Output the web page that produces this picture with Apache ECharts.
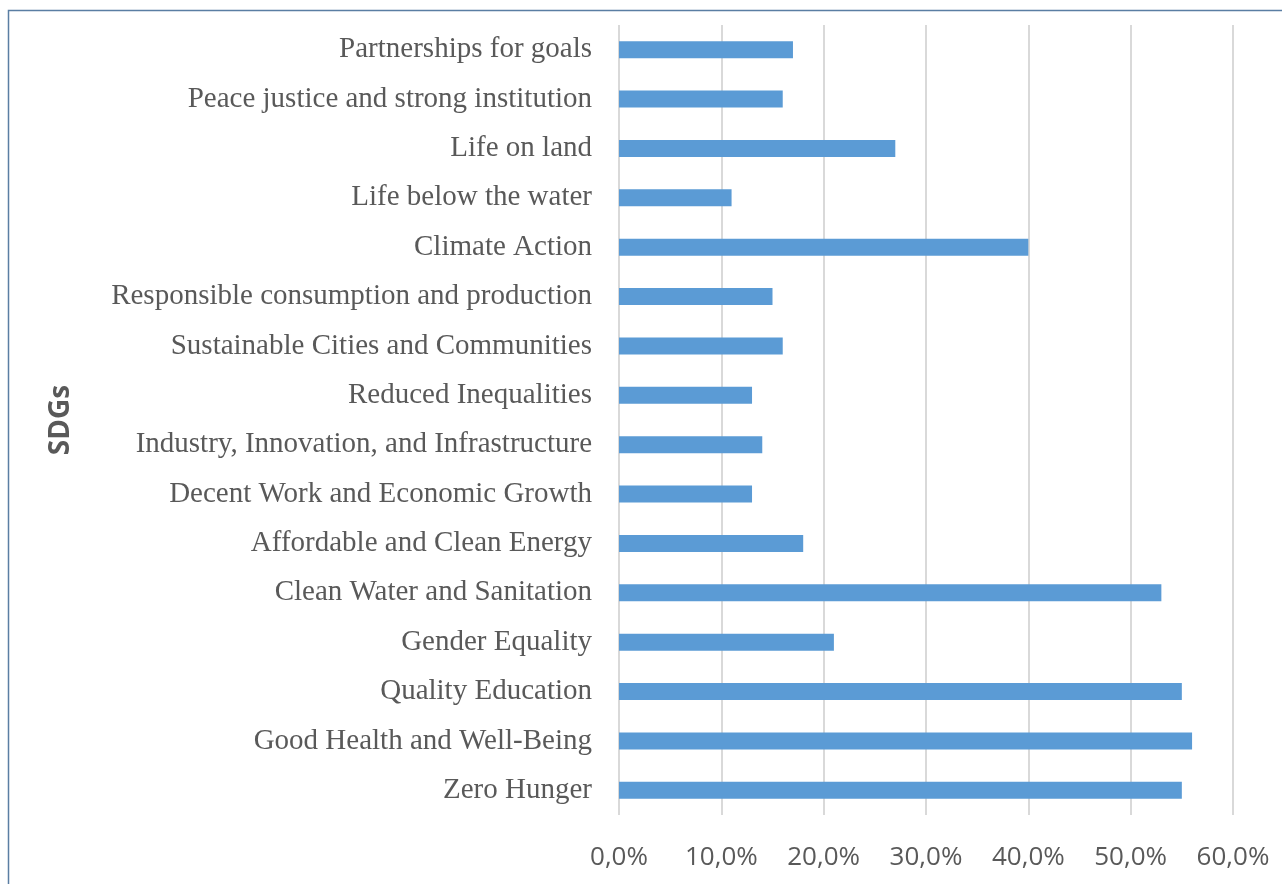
<!DOCTYPE html>
<html>
<head>
<meta charset="utf-8">
<script src="https://cdn.jsdelivr.net/npm/echarts@6/dist/echarts.min.js"></script>
<style>
html, body { margin: 0; padding: 0; background: #fff; }
#main { width: 1282px; height: 884px; }
</style>
</head>
<body>
<div id="main"></div>
<script>
// categories, bottom to top
var categories = ['Zero Hunger', 'Good Health and Well-Being', 'Quality Education', 'Gender Equality',
    'Clean Water and Sanitation', 'Affordable and Clean Energy', 'Decent Work and Economic Growth',
    'Industry, Innovation, and Infrastructure', 'Reduced Inequalities', 'Sustainable Cities and Communities',
    'Responsible consumption and production', 'Climate Action', 'Life below the water', 'Life on land',
    'Peace justice and strong institution', 'Partnerships for goals'];
// percent values
var values = [55, 56, 55, 21, 53, 18, 13, 14, 13, 16, 15, 40, 11, 27, 16, 17];

var chart = echarts.init(document.getElementById('main'));
var option = {
    backgroundColor: '#fff',
    animation: false,
    graphic: [{
        type: 'rect',
        shape: { x: 8.5, y: 10.5, width: 1300, height: 900 },
        style: { fill: 'none', stroke: '#5a7ea3', lineWidth: 1.5 }
    }, {
        type: 'text',
        x: 61, y: 420, rotation: Math.PI / 2,
        style: {
            text: 'SDGs', fill: '#595959', font: 'bold 28px "Open Sans"',
            align: 'center', verticalAlign: 'middle'
        }
    }],
    grid: { left: 619, right: 49, top: 25, bottom: 69 },
    xAxis: {
        type: 'value', min: 0, max: 60, interval: 10,
        axisLine: { show: false },
        axisTick: { show: false },
        axisLabel: {
            color: '#595959', fontFamily: 'Open Sans', fontSize: 26, margin: 30,
            formatter: function (v) { return v.toFixed(1).replace('.', ',') + '%'; }
        },
        splitLine: { lineStyle: { color: '#d9d9d9', width: 2 } }
    },
    yAxis: {
        type: 'category', data: categories,
        axisLine: { show: false },
        axisTick: { show: false },
        axisLabel: { color: '#595959', fontFamily: 'Liberation Serif', fontSize: 29, margin: 27 }
    },
    series: [{
        type: 'bar', data: values, barWidth: 17,
        itemStyle: { color: '#5b9bd5' }
    }]
};
chart.setOption(option);
</script>
</body>
</html>
